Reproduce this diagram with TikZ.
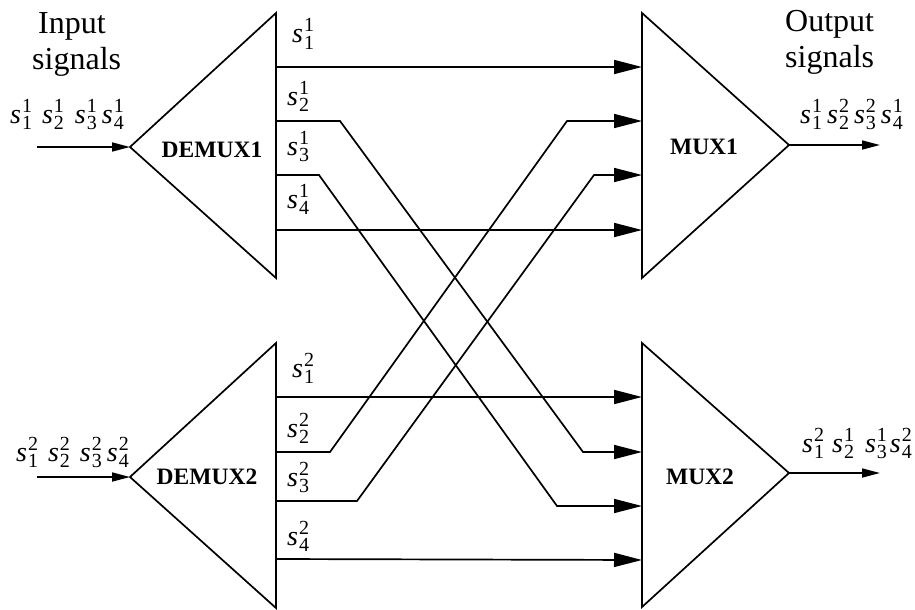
\documentclass[tikz,border=0pt]{standalone}
\usepackage{fontspec}
\setmainfont{Liberation Serif}
\usetikzlibrary{arrows.meta}
\newcommand\sgsize{\fontsize{20}{20}\selectfont}
\newcommand\sg[2]{\textit{s}\kern1pt\rlap{\raisebox{-6pt}{\sgsize #1}}\raisebox{11pt}{\sgsize #2}}
\tikzset{
  wire/.style={line width=1.7pt, line join=miter},
  tri/.style={line width=1.7pt, line join=miter},
  bigtip/.style={wire, -{Triangle[length=28pt,width=14pt]}},
  smalltip/.style={wire, -{Triangle[length=18pt,width=9pt]}},
  lab/.style={font=\fontsize{28}{30}\selectfont, inner sep=0pt, anchor=base west},
  title/.style={font=\fontsize{32}{36}\selectfont, inner sep=0pt, anchor=base west},
  boxname/.style={font=\fontsize{23.5}{26}\selectfont\bfseries, inner sep=0pt}
}
\begin{document}
\begin{tikzpicture}[x=1pt,y=-1pt]
\useasboundingbox (0,0) rectangle (915,610);
% triangle corners
\coordinate (d1a) at (130,147); \coordinate (d1t) at (276,13); \coordinate (d1b) at (276,278);
\coordinate (m1a) at (789,145); \coordinate (m1t) at (642,13); \coordinate (m1b) at (642,278);
\coordinate (d2a) at (130,477); \coordinate (d2t) at (276,343); \coordinate (d2b) at (276,608);
\coordinate (m2a) at (789,473); \coordinate (m2t) at (642,343); \coordinate (m2b) at (642,607);
\draw[tri] (d1a) -- (d1t) -- (d1b) -- cycle;
\draw[tri] (m1a) -- (m1t) -- (m1b) -- cycle;
\draw[tri] (d2a) -- (d2t) -- (d2b) -- cycle;
\draw[tri] (m2a) -- (m2t) -- (m2b) -- cycle;
\node[boxname] (dm1) at (212,150) {DEMUX1};
\node[boxname] (dm2) at (207,477) {DEMUX2};
\node[boxname] (mx1) at (704,147) {MUX1};
\node[boxname] (mx2) at (700,477) {MUX2};
% external terminals
\coordinate (in1) at (37,147); \coordinate (in2) at (37,477);
\coordinate (out1) at (880,145); \coordinate (out2) at (880,473);
\draw[smalltip] (in1) -- (d1a);
\draw[smalltip] (in2) -- (d2a);
\draw[smalltip] (m1a) -- (out1);
\draw[smalltip] (m2a) -- (out2);
% output ports of demuxes
\coordinate (a1) at (276,67); \coordinate (a2) at (276,121); \coordinate (a3) at (276,175); \coordinate (a4) at (276,230);
\coordinate (b1) at (276,397); \coordinate (b2) at (276,452); \coordinate (b3) at (276,501); \coordinate (b4) at (276,559);
% input ports of muxes
\coordinate (p1) at (642,67); \coordinate (p2) at (642,121); \coordinate (p3) at (642,175); \coordinate (p4) at (642,230);
\coordinate (q1) at (642,397); \coordinate (q2) at (642,452); \coordinate (q3) at (642,506); \coordinate (q4) at (642,560);
\draw[bigtip] (a1) -- (p1);
\draw[bigtip] (a4) -- (p4);
\draw[bigtip] (b1) -- (q1);
\draw[bigtip] (b4) -- (q4);
\draw[bigtip] (a2) -- (340,121) -- (583,452) -- (q2);
\draw[bigtip] (a3) -- (319,175) -- (557,506) -- (q3);
\draw[bigtip] (b2) -- (330,452) -- (567,121) -- (p2);
\draw[bigtip] (b3) -- (357,501) -- (594,175) -- (p3);
% labels beside the demux outputs
\node[lab] (l11) at (292,43) {\sg{1}{1}};
\node[lab] (l21) at (287,105) {\sg{2}{1}};
\node[lab] (l31) at (287,155) {\sg{3}{1}};
\node[lab] (l41) at (287,208) {\sg{4}{1}};
\node[lab] (l12) at (292,377) {\sg{1}{2}};
\node[lab] (l22) at (287,437) {\sg{2}{2}};
\node[lab] (l32) at (287,486) {\sg{3}{2}};
\node[lab] (l42) at (287,545) {\sg{4}{2}};
% titles
\node[title] (ttlin1) at (38,34) {Input};
\node[title] (ttlin2) at (32,70) {signals};
\node[title] (ttlout1) at (785,32) {Output};
\node[title] (ttlout2) at (785,67) {signals};
% signal sequences
\node[lab] (ins1) at (10,123) {\sg{1}{1}\hspace{10pt}\sg{2}{1}\hspace{11pt}\sg{3}{1}\hspace{5pt}\sg{4}{1}};
\node[lab] (ins2) at (16,461) {\sg{1}{2}\hspace{10pt}\sg{2}{2}\hspace{10pt}\sg{3}{2}\hspace{5pt}\sg{4}{2}};
\node[lab] (outs1) at (800,123) {\sg{1}{1}\hspace{5pt}\sg{2}{2}\hspace{5pt}\sg{3}{2}\hspace{5pt}\sg{4}{1}};
\node[lab] (outs2) at (802,452) {\sg{1}{2}\hspace{8pt}\sg{2}{1}\hspace{11pt}\sg{3}{1}\hspace{3pt}\sg{4}{2}};
\end{tikzpicture}
\end{document}
